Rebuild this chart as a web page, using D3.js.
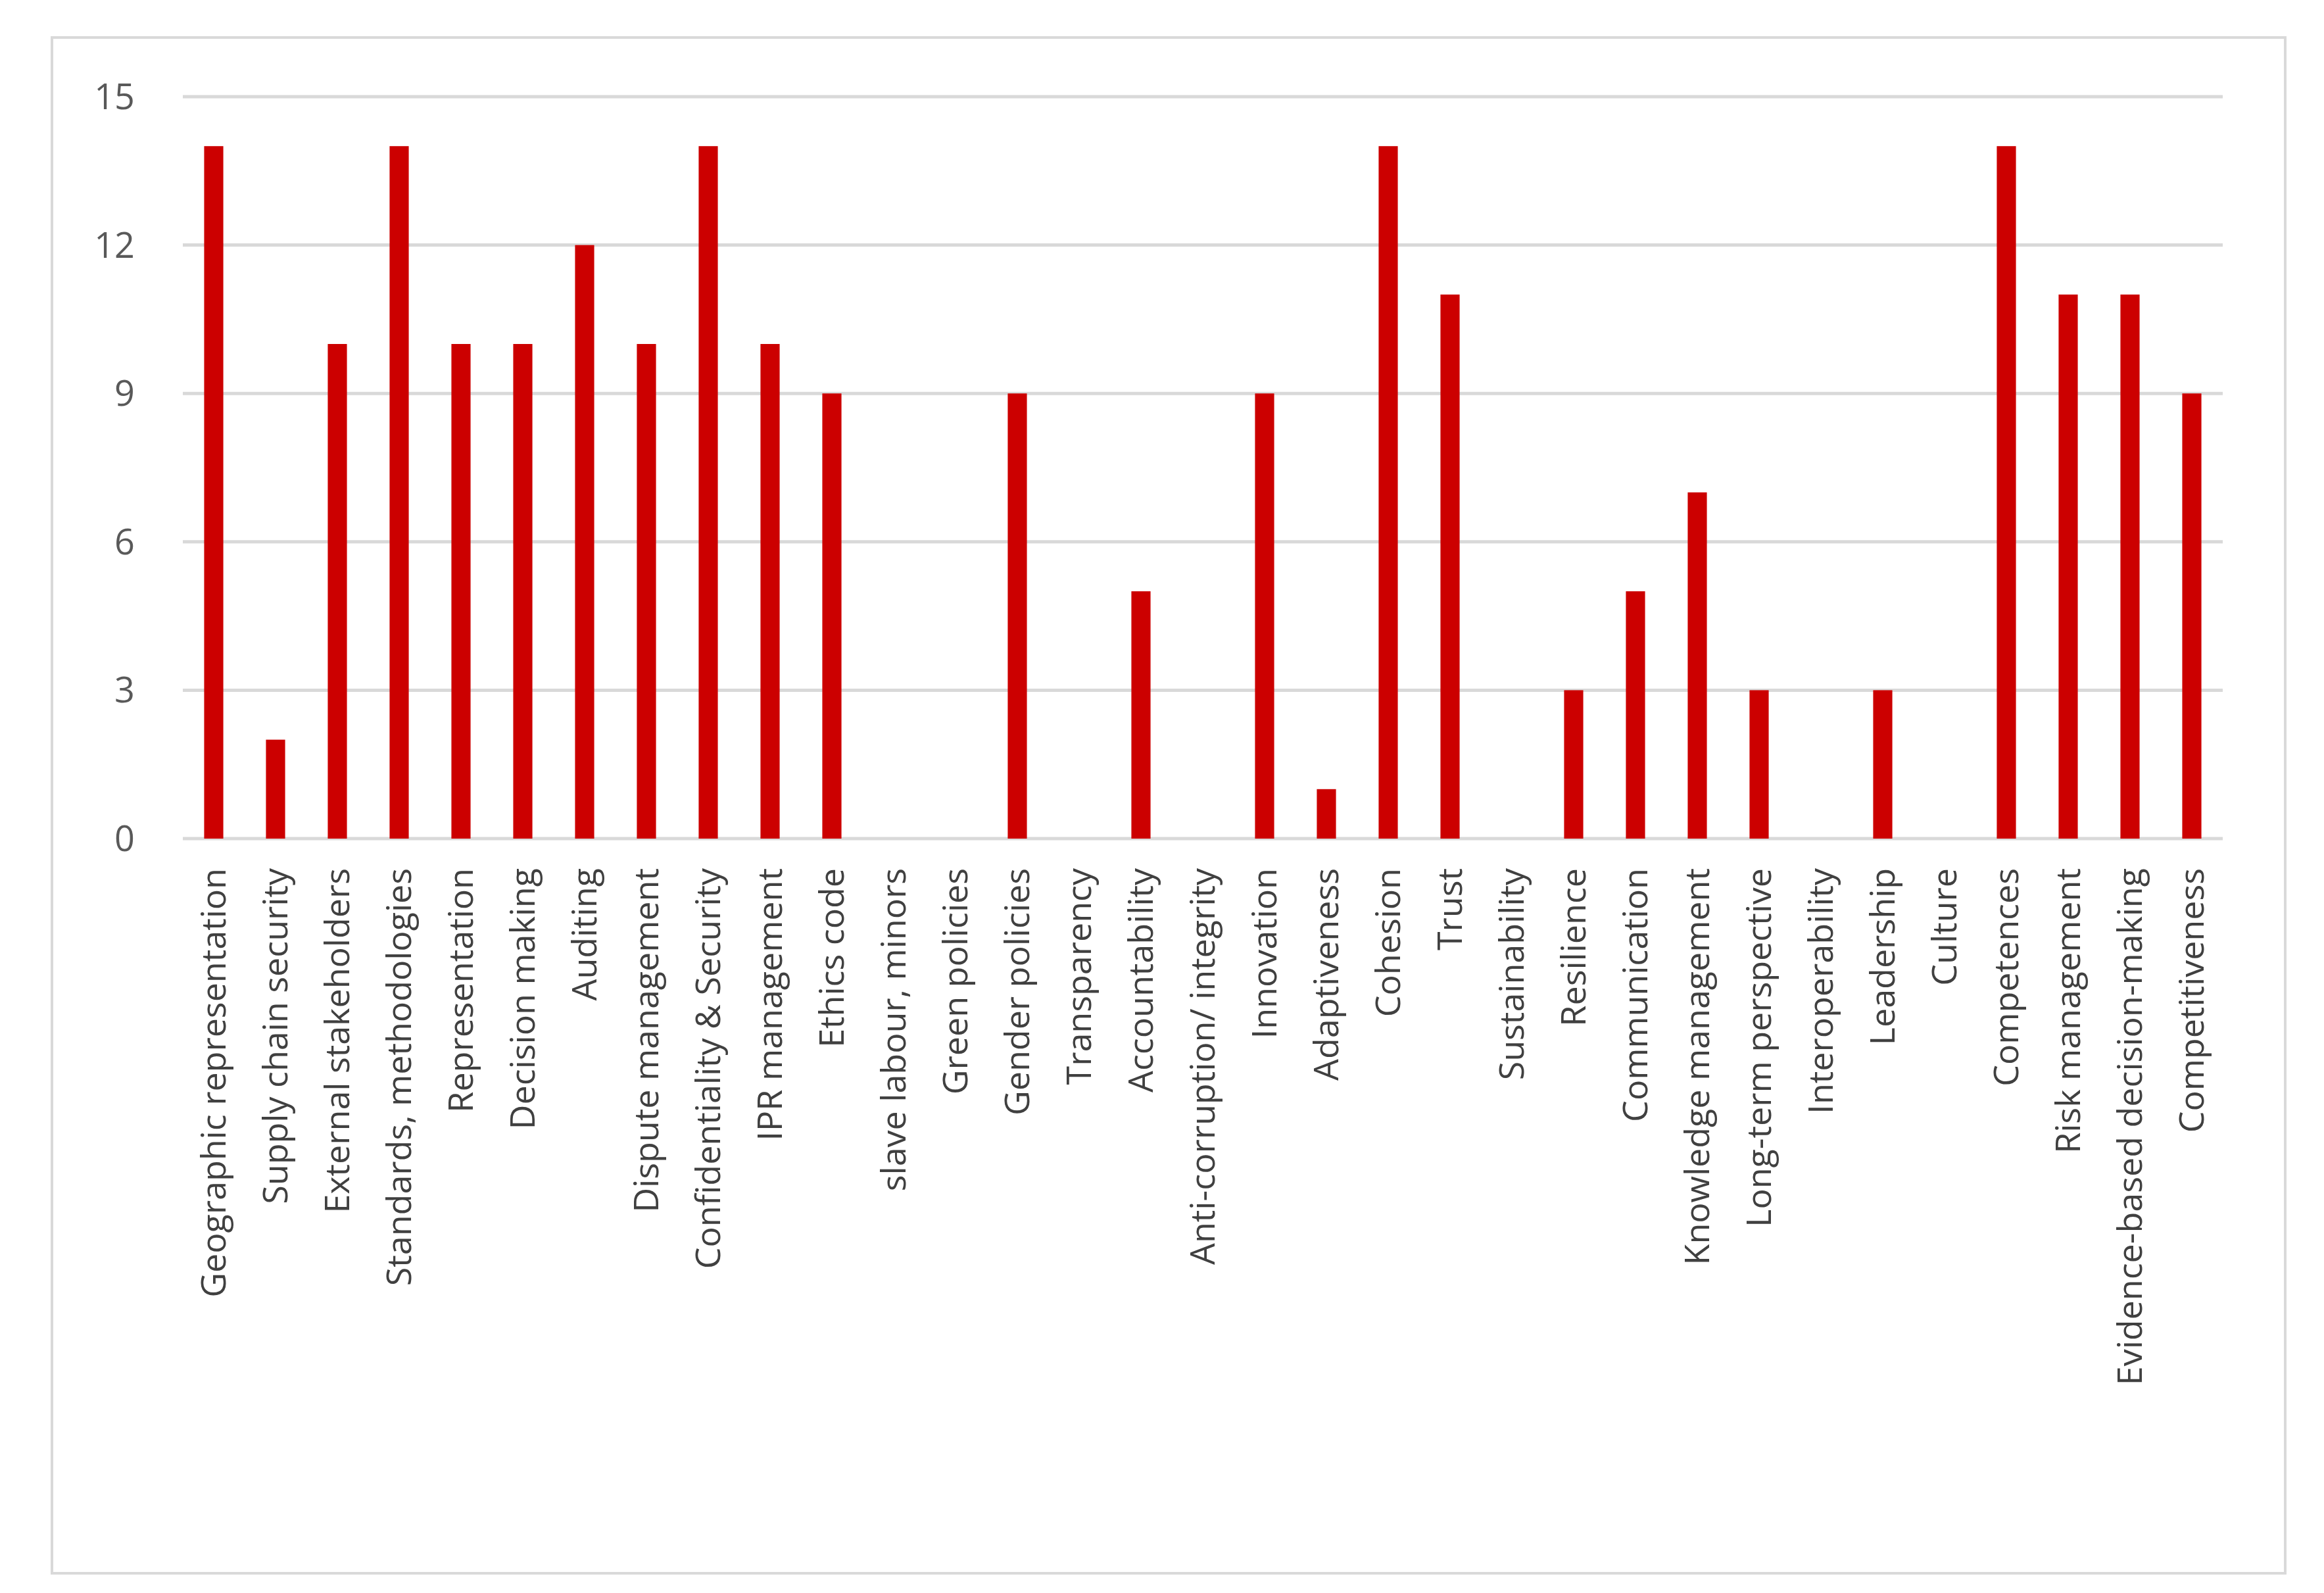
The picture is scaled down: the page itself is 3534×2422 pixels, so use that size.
<!DOCTYPE html>
<html>
<head>
<meta charset="utf-8">
<script src="https://cdn.jsdelivr.net/npm/d3@7"></script>
<style>body{margin:0;background:#fff}</style>
</head>
<body>
<svg width="3534" height="2422"></svg>
<script>
const categories = ['Geographic representation','Supply chain security','External stakeholders','Standards, methodologies','Representation','Decision making','Auditing','Dispute management','Confidentiality & Security','IPR management','Ethics code','slave labour, minors','Green policies','Gender policies','Transparency','Accountability','Anti-corruption/ integrity','Innovation','Adaptiveness','Cohesion','Trust','Sustainability','Resilience','Communication','Knowledge management','Long-term perspective','Interoperability','Leadership','Culture','Competences','Risk management','Evidence-based decision-making','Competitiveness']
const values = [14,2,10,14,10,10,12,10,14,10,9,0,0,9,0,5,0,9,1,14,11,0,3,5,7,3,0,3,0,14,11,11,9]
const yTicks = [0,3,6,9,12,15]

const svg = d3.select('svg')
const font = 'Open Sans, Liberation Sans, sans-serif'

svg.append('rect')
  .attr('x', 79).attr('y', 57).attr('width', 3396).attr('height', 2335)
  .attr('fill', 'none').attr('stroke', '#d9d9d9').attr('stroke-width', 4)

const plotLeft = 278, plotRight = 3380, plotTop = 147, plotBottom = 1275

const x = d3.scaleBand().domain(categories).range([plotLeft, plotRight]).paddingInner(0.69).paddingOuter(0.345)
const y = d3.scaleLinear().domain([0, 15]).range([plotBottom, plotTop])

svg.append('g').selectAll('line')
  .data(yTicks)
  .join('line')
  .attr('x1', plotLeft).attr('x2', plotRight)
  .attr('y1', d => y(d)).attr('y2', d => y(d))
  .attr('stroke', '#d9d9d9').attr('stroke-width', 5)

svg.append('g').selectAll('text')
  .data(yTicks)
  .join('text')
  .attr('x', 205).attr('y', d => y(d))
  .attr('dy', '0.35em')
  .attr('text-anchor', 'end')
  .attr('font-family', font).attr('font-size', 54).attr('fill', '#595959')
  .text(d => d)

svg.append('g').selectAll('rect')
  .data(values)
  .join('rect')
  .attr('x', (d, i) => x(categories[i]))
  .attr('y', d => y(d))
  .attr('width', x.bandwidth())
  .attr('height', d => plotBottom - y(d))
  .attr('fill', '#cc0000')

svg.append('g').selectAll('text')
  .data(categories)
  .join('text')
  .attr('transform', d => `translate(${x(d) + x.bandwidth() / 2},${plotBottom + 45}) rotate(-90)`)
  .attr('dy', '0.35em')
  .attr('text-anchor', 'end')
  .attr('font-family', font).attr('font-size', 52).attr('fill', '#404040')
  .text(d => d)
</script>
</body>
</html>
